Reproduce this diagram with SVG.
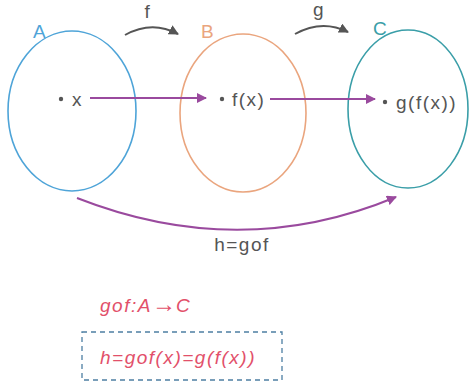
<svg xmlns="http://www.w3.org/2000/svg" width="472" height="385" viewBox="0 0 472 385">
<defs>
<style>
text{font-family:"Liberation Sans",Arial,sans-serif;font-size:19px;letter-spacing:1.5px;fill:#555}
.set{fill:none;stroke-width:1.6}
.lbl{font-size:19px;letter-spacing:0}
.red{fill:#e2506a;font-style:italic}
.map{fill:none;stroke:#555;stroke-width:2}
.pur{fill:none;stroke:#9a4a9e;stroke-width:2}
</style>
<marker id="ag" viewBox="0 0 10 10" refX="9" refY="5" markerWidth="5" markerHeight="5" orient="auto"><path d="M0,0 L10,5 L0,10 z" fill="#555"/></marker>
<marker id="ap" viewBox="0 0 10 10" refX="9" refY="5" markerWidth="5" markerHeight="5" orient="auto"><path d="M0,0 L10,5 L0,10 z" fill="#9a4a9e"/></marker>
</defs>
<rect width="472" height="385" fill="#fff"/>
<g id="setA">
<ellipse class="set" cx="72" cy="111" rx="64" ry="80" stroke="#4ea4d8"/>
<text x="33" y="38" class="lbl" style="fill:#4ea4d8">A</text>
<circle cx="61" cy="99" r="2.2" fill="#555"/>
<text x="72" y="106">x</text>
</g>
<g id="setB">
<ellipse class="set" cx="243" cy="113" rx="63" ry="79" stroke="#eaa57e"/>
<text x="201" y="38" class="lbl" style="fill:#eaa57e">B</text>
<circle cx="222" cy="99" r="2.2" fill="#555"/>
<text x="232" y="106">f(x)</text>
</g>
<g id="setC">
<ellipse class="set" cx="408" cy="109" rx="60" ry="79" stroke="#3a9ea8"/>
<text x="373" y="35" class="lbl" style="fill:#3a9ea8">C</text>
<circle cx="385" cy="102" r="2.2" fill="#555"/>
<text x="396" y="109">g(f(x))</text>
</g>
<g id="connectors">
<path class="map" d="M125,35 Q152,20 178,34" marker-end="url(#ag)"/>
<text x="148" y="18" text-anchor="middle">f</text>
<path class="map" d="M295,34 Q322,19 348,32" marker-end="url(#ag)"/>
<text x="319" y="16" text-anchor="middle">g</text>
<path class="pur" d="M90,98 L206,98" marker-end="url(#ap)"/>
<path class="pur" d="M270,99 L375,99" marker-end="url(#ap)"/>
<path class="pur" d="M77,198 Q240,262 396,197" marker-end="url(#ap)"/>
<text x="242" y="251" text-anchor="middle">h=gof</text>
</g>
<g id="formulas">
<text x="100" y="312" class="red">gof:A<tspan style="letter-spacing:0;font-size:24px;font-style:normal">→</tspan>C</text>
<rect x="82" y="332" width="200" height="48" fill="none" stroke="#4d7fa3" stroke-width="1.3" stroke-dasharray="5,4"/>
<text x="100" y="364" class="red">h=gof(x)=g(f(x))</text>
</g>
</svg>
